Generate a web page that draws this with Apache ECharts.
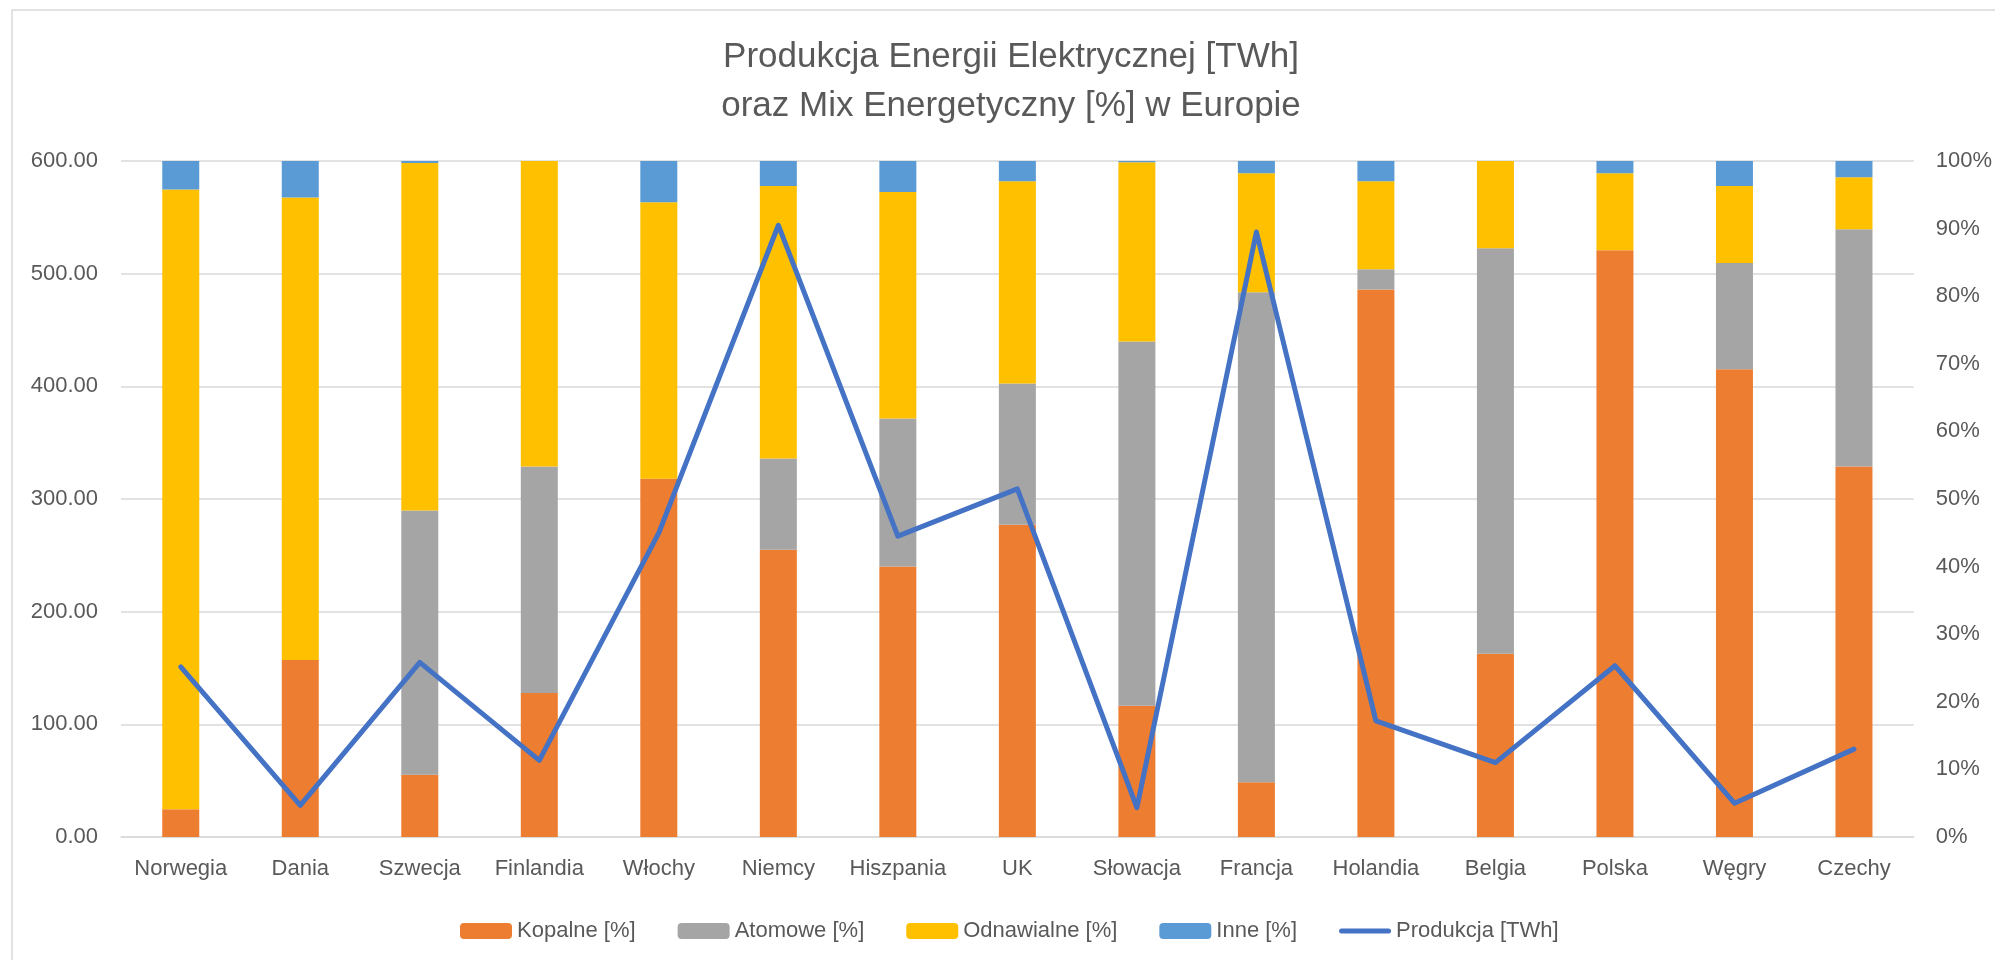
<!DOCTYPE html>
<html>
<head>
<meta charset="utf-8">
<script src="https://cdn.jsdelivr.net/npm/echarts@6/dist/echarts.min.js"></script>
<style>
  html, body { margin: 0; padding: 0; background: #fff; }
  #chart { width: 1995px; height: 960px; }
</style>
</head>
<body>
<div id="chart"></div>
<script>
const countries = ['Norwegia', 'Dania', 'Szwecja', 'Finlandia', 'Włochy', 'Niemcy', 'Hiszpania', 'UK',
    'Słowacja', 'Francja', 'Holandia', 'Belgia', 'Polska', 'Węgry', 'Czechy'];

// energy mix, percent of total
const kopalne = [4.1, 26.2, 9.2, 21.3, 53.0, 42.5, 40.0, 46.2, 19.4, 8.1, 81.0, 27.1, 86.8, 69.2, 54.8];
const atomowe = [0, 0, 39.1, 33.5, 0, 13.5, 21.9, 20.9, 53.9, 72.5, 3.0, 60.0, 0, 15.7, 35.1];
const odnawialne = [91.7, 68.4, 51.4, 45.2, 40.9, 40.3, 33.5, 29.9, 26.5, 17.6, 13.0, 12.9, 11.4, 11.4, 7.7];
const inne = [4.2, 5.4, 0.3, 0, 6.1, 3.7, 4.6, 3.0, 0.2, 1.8, 3.0, 0, 1.8, 3.7, 2.4];

// production, TWh
const produkcja = [151, 28, 155, 68, 270, 543, 267, 309, 26, 537, 103, 66, 152, 30, 78];

const twhTicks = { min: 0, max: 600, interval: 100 };
const pctTicks = { min: 0, max: 100, interval: 10 };

const font = 'Liberation Sans, Arial, sans-serif';
const textColor = '#595959';
const gridColor = '#D9D9D9';

// thin line legend icon, padded to the full item height so it is not stretched
const lineIcon = 'path://M0,0M0,16M2.5,5.5L49.5,5.5A2.5,2.5,0,0,1,49.5,10.5L2.5,10.5A2.5,2.5,0,0,1,2.5,5.5Z';

function barSeries(name, data, color) {
    return {
        name: name,
        type: 'bar',
        stack: 'mix',
        yAxisIndex: 1,
        barWidth: 37,
        itemStyle: { color: color },
        data: data
    };
}

const option = {
    animation: false,
    textStyle: { fontFamily: font },
    graphic: [
        {
            type: 'rect',
            shape: { x: 12, y: 10, width: 2010, height: 1000 },
            style: { fill: 'none', stroke: gridColor, lineWidth: 1.5 },
            silent: true
        },
        {
            type: 'text',
            x: 1011,
            y: 82,
            style: {
                text: 'Produkcja Energii Elektrycznej [TWh]\noraz Mix Energetyczny [%] w Europie',
                font: '35px ' + font,
                fill: textColor,
                textAlign: 'center',
                textVerticalAlign: 'middle',
                lineHeight: 49
            }
        }
    ],
    legend: {
        left: 455,
        top: 915,
        itemWidth: 52,
        itemHeight: 16,
        itemGap: 42,
        textStyle: { color: textColor, fontSize: 22, fontFamily: font },
        data: [
            'Kopalne [%]',
            'Atomowe [%]',
            'Odnawialne [%]',
            'Inne [%]',
            { name: 'Produkcja [TWh]', icon: lineIcon }
        ]
    },
    grid: { left: 121, right: 76, top: 161, bottom: 123 },
    xAxis: {
        type: 'category',
        data: countries,
        axisTick: { show: false },
        axisLine: { lineStyle: { color: gridColor, width: 1.5 } },
        axisLabel: { color: textColor, fontSize: 22, margin: 21, interval: 0 }
    },
    yAxis: [
        {
            type: 'value',
            min: twhTicks.min,
            max: twhTicks.max,
            interval: twhTicks.interval,
            axisLabel: {
                color: textColor,
                fontSize: 22,
                margin: 23,
                formatter: v => v.toFixed(2)
            },
            splitLine: { lineStyle: { color: gridColor, width: 1.5 } }
        },
        {
            type: 'value',
            min: pctTicks.min,
            max: pctTicks.max,
            interval: pctTicks.interval,
            axisLabel: { color: textColor, fontSize: 22, margin: 22, formatter: '{value}%' },
            splitLine: { show: false }
        }
    ],
    series: [
        barSeries('Kopalne [%]', kopalne, '#ED7D31'),
        barSeries('Atomowe [%]', atomowe, '#A5A5A5'),
        barSeries('Odnawialne [%]', odnawialne, '#FFC000'),
        barSeries('Inne [%]', inne, '#5B9BD5'),
        {
            name: 'Produkcja [TWh]',
            type: 'line',
            yAxisIndex: 0,
            symbol: 'none',
            z: 5,
            lineStyle: { color: '#4472C4', width: 5, join: 'round', cap: 'round' },
            itemStyle: { color: '#4472C4' },
            data: produkcja
        }
    ]
};

const chart = echarts.init(document.getElementById('chart'));
chart.setOption(option);
</script>
</body>
</html>
